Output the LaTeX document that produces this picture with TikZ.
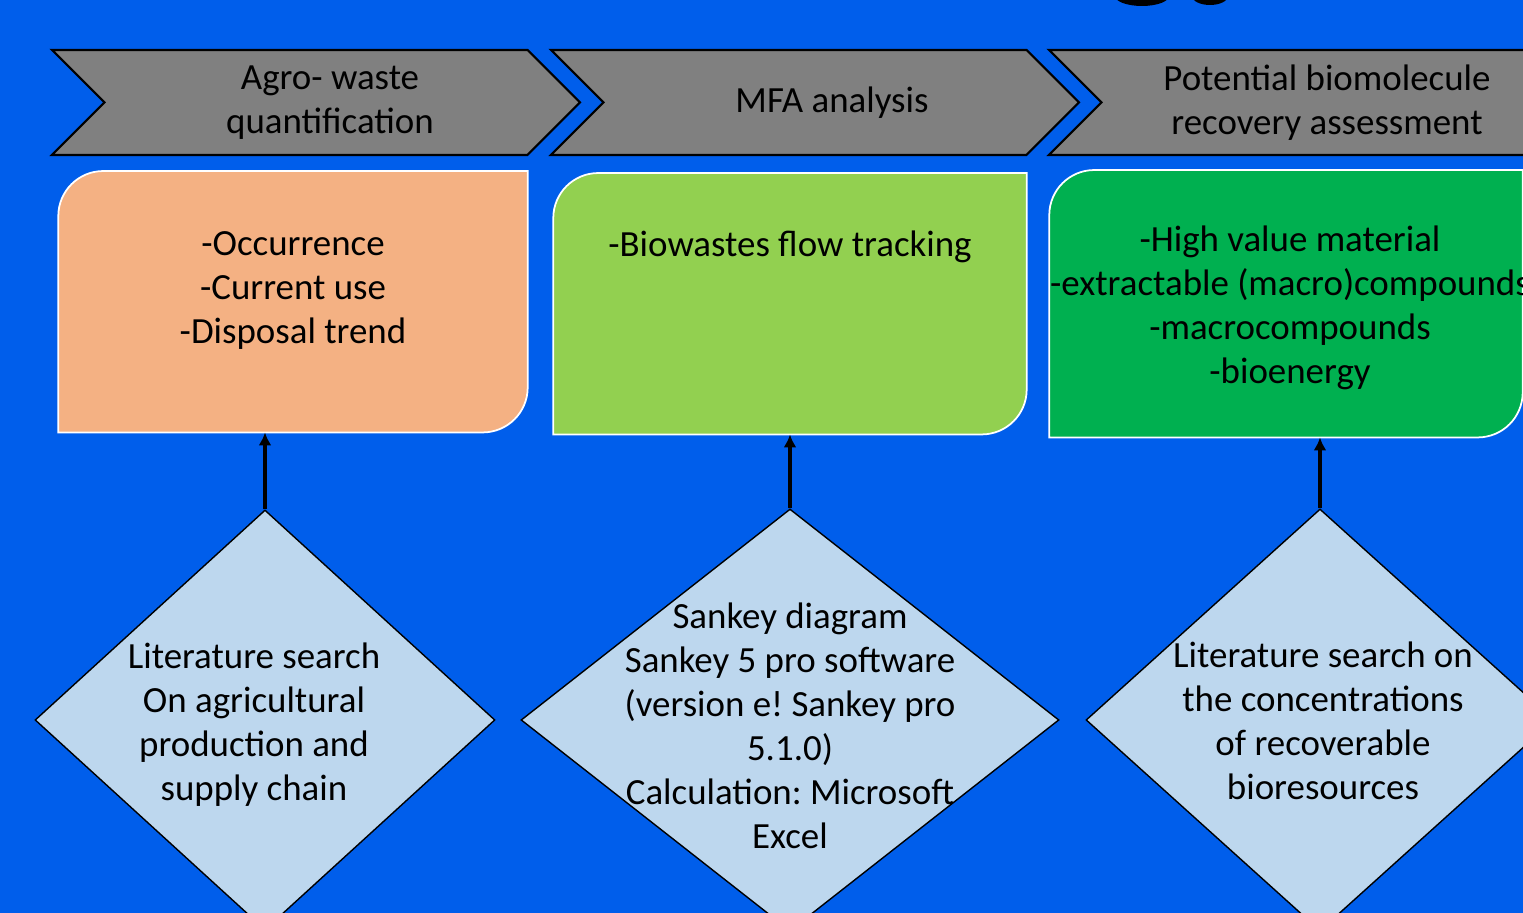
\documentclass[tikz,border=0pt]{standalone}
\usepackage{fontspec}
\setmainfont{Carlito}
\usepackage{tikz}
\usetikzlibrary{shapes}
\usetikzlibrary{positioning, arrows.meta}

\definecolor{slideblue}{RGB}{0,94,235}
\definecolor{stagegray}{RGB}{128,128,128}
\definecolor{peach}{RGB}{244,177,131}
\definecolor{lightgreen}{RGB}{146,208,80}
\definecolor{darkgreen}{RGB}{0,176,80}
\definecolor{paleblue}{RGB}{189,215,238}

% box with round top-left and bottom-right corners, drawn round a node
\newcommand{\cornerbox}[2]{%
  \filldraw[fill=#2, draw=white, line width=0.5pt]
    ([yshift=-4.5mm]#1.north west) arc[start angle=180, end angle=90, radius=4.5mm]
    -- (#1.north east) -- ([yshift=4.5mm]#1.south east)
    arc[start angle=0, end angle=-90, radius=4.5mm] -- (#1.south west) -- cycle;}

\begin{document}
\frenchspacing
\begin{tikzpicture}[font=\fontsize{10.5}{12.5}\selectfont,
    stage/.style = {signal, signal from=west, signal to=east, signal pointer angle=90, draw=black, line width=0.6pt, fill=stagegray, minimum width=5.28cm, minimum height=1.05cm, inner sep=0pt},
    panel/.style = {rectangle, minimum width=4.72cm, minimum height=2.6cm, inner sep=0pt},
    paneltext/.style = {inner sep=0pt, align=center},
    decision/.style = {diamond, draw=black, line width=0.4pt, fill=paleblue, inner sep=0pt},
    flow/.style = {-{Latex[length=1.3mm, width=1.3mm]}, line width=1.3pt}]

    \useasboundingbox (0,0) rectangle (15.23,9.13);
    \fill[slideblue] (0,0) rectangle (15.23,9.13);
    \clip (0,0) rectangle (15.23,9.13);

    % what is left of the title above
    \fill[black] (11.42,9.17) ellipse [x radius=0.27, y radius=0.1];
    \fill[black] (12.10,9.17) ellipse [x radius=0.18, y radius=0.09];

    % Stages
    \node[stage] (agro) at (3.16,8.105) {};
    \node[stage] (mfa) at (8.15,8.105) {};
    \node[stage] (recov) at (13.13,8.105) {};

    \node[paneltext] (agrotxt) at ([xshift=1.4mm]agro.center) {Agro- waste\\quantification};
    \node[paneltext] (mfatxt) at ([xshift=1.7mm]mfa.center) {MFA analysis};
    \node[paneltext] (recovtxt) at ([xshift=1.4mm]recov.center) {Potential biomolecule\\recovery assessment};

    % Panels
    \node[panel, below=1.5mm of agro, xshift=-2.3mm, minimum width=4.68cm] (occ) {};
    \cornerbox{occ}{peach}
    \node[panel, below=1.7mm of mfa, xshift=-2.5mm] (track) {};
    \cornerbox{track}{lightgreen}
    \node[panel, below=1.4mm of recov, xshift=-2.7mm, minimum height=2.66cm] (value) {};
    \cornerbox{value}{darkgreen}

    \node[paneltext, below=6mm of occ.north] (occtxt) {-Occurrence\\-Current use\\-Disposal trend};
    \node[paneltext, below=5.7mm of track.north] (tracktxt) {-Biowastes flow tracking};
    \node[paneltext, below=5.5mm of value.north, xshift=0.4mm] (valuetxt) {-High value material\\-extractable (macro)compounds\\-macrocompounds\\-bioenergy};

    % Methods
    \node[decision, minimum width=4.6cm, minimum height=4.2cm] (litag) at (2.65,1.93) {};
    \node[decision, minimum width=5.38cm, minimum height=4.22cm] (sankey) at (7.90,1.93) {};
    \node[decision, minimum width=4.68cm, minimum height=4.22cm] (litbio) at (13.20,1.93) {};

    \node[paneltext] (litagtxt) at ([xshift=-1.1mm, yshift=-0.5mm]litag.center) {Literature search\\On agricultural\\production and\\supply chain};
    \node[paneltext] (sankeytxt) at ([yshift=-0.6mm]sankey.center) {Sankey diagram\\Sankey 5 pro software\\(version e! Sankey pro\\5.1.0)\\Calculation: Microsoft\\Excel};
    \node[paneltext] (litbiotxt) at ([xshift=0.3mm, yshift=-0.1mm]litbio.center) {Literature search on\\the concentrations\\of recoverable\\bioresources};

    % Arrows
    \draw[flow] (litag.north) -- (litag.north |- occ.south);
    \draw[flow] (sankey.north) -- (sankey.north |- track.south);
    \draw[flow] (litbio.north) -- (litbio.north |- value.south);
\end{tikzpicture}
\end{document}
